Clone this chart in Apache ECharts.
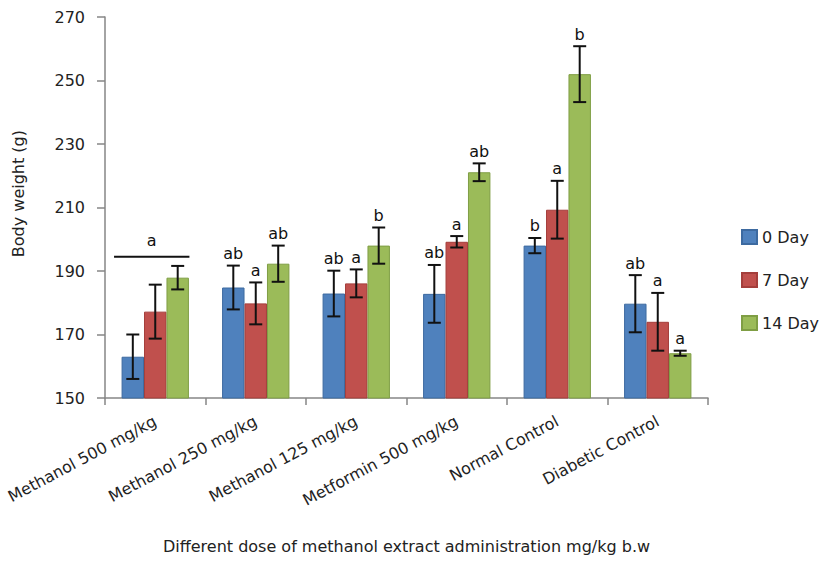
<!DOCTYPE html>
<html>
<head>
<meta charset="utf-8">
<script src="https://cdn.jsdelivr.net/npm/echarts@6/dist/echarts.min.js"></script>
<style>html,body{margin:0;padding:0;background:#fff}#main{width:826px;height:570px}</style>
</head>
<body>
<div id="main"></div>
<script>
var categories = ['Methanol 500 mg/kg','Methanol 250 mg/kg','Methanol 125 mg/kg','Metformin 500 mg/kg','Normal Control','Diabetic Control'];
var seriesNames = ['0 Day','7 Day','14 Day'];
var day0 = [163, 184.8, 182.9, 182.8, 198, 179.7];
var day0Err = [7, 6.9, 7.2, 9.1, 2.4, 9];
var day7 = [177.2, 179.8, 186.1, 199.2, 209.3, 174];
var day7Err = [8.5, 6.6, 4.4, 1.8, 9.1, 9.1];
var day14 = [187.9, 192.3, 198, 221.1, 252, 164.1];
var day14Err = [3.7, 5.7, 5.7, 2.8, 8.8, 0.8];
var letters0 = ['', 'ab', 'ab', 'ab', 'b', 'ab'];
var letters7 = ['', 'a', 'a', 'a', 'a', 'a'];
var letters14 = ['', 'ab', 'b', 'ab', 'b', 'a'];
var groupBracket = [[0, 194.5, 'a']];
var yTicks = [150, 170, 190, 210, 230, 250, 270];

var colors = ['#4F81BD', '#C0504D', '#9BBB59'];
var borders = ['#3d6aa0', '#a43e3b', '#7f9e44'];
var FONT = 'DejaVu Sans';
var values = [day0, day7, day14];
var errs = [day0Err, day7Err, day14Err];
var letters = [letters0, letters7, letters14];
var GROUP = 0.67;

var series = [];
values.forEach(function (vals, s) {
  series.push({
    name: seriesNames[s],
    type: 'bar',
    data: vals,
    barGap: '0%',
    barCategoryGap: '33%',
    itemStyle: { color: colors[s], borderColor: borders[s], borderWidth: 1 },
    z: 2
  });
});
values.forEach(function (vals, s) {
  var data = vals.map(function (v, i) { return [i, v, errs[s][i], letters[s][i]]; });
  series.push({
    type: 'custom',
    data: data,
    z: 5,
    silent: true,
    renderItem: function (params, api) {
      var i = api.value(0), v = api.value(1), e = api.value(2);
      var lbl = data[params.dataIndex][3];
      var c = api.coord([i, v]);
      var catW = api.size([1, 0])[0];
      var bw = catW * GROUP / 3;
      var x = c[0] + (s - 1) * bw;
      var top = api.coord([i, v + e])[1];
      var bot = api.coord([i, v - e])[1];
      var cap = 6.5;
      var st = { stroke: '#111', lineWidth: 2 };
      var children = [
        { type: 'line', shape: { x1: x, y1: top, x2: x, y2: bot }, style: st },
        { type: 'line', shape: { x1: x - cap, y1: top, x2: x + cap, y2: top }, style: st },
        { type: 'line', shape: { x1: x - cap, y1: bot, x2: x + cap, y2: bot }, style: st }
      ];
      if (lbl) {
        children.push({ type: 'text', style: { text: lbl, x: x, y: top - 4, align: 'center', verticalAlign: 'bottom', fill: '#111', font: '16px "' + FONT + '"' } });
      }
      return { type: 'group', children: children };
    }
  });
});
series.push({
  type: 'custom',
  data: groupBracket,
  z: 5,
  silent: true,
  renderItem: function (params, api) {
    var i = api.value(0), v = api.value(1);
    var lbl = groupBracket[params.dataIndex][2];
    var c = api.coord([i, v]);
    var catW = api.size([1, 0])[0];
    var x1 = c[0] - catW * 0.41, x2 = c[0] + catW * 0.34;
    return { type: 'group', children: [
      { type: 'line', shape: { x1: x1, y1: c[1], x2: x2, y2: c[1] }, style: { stroke: '#111', lineWidth: 2 } },
      { type: 'text', style: { text: lbl, x: (x1 + x2) / 2, y: c[1] - 8, align: 'center', verticalAlign: 'bottom', fill: '#111', font: '16px "' + FONT + '"' } }
    ] };
  }
});

var chart = echarts.init(document.getElementById('main'), null, { renderer: 'svg' });
chart.setOption({
  animation: false,
  backgroundColor: '#fff',
  textStyle: { fontFamily: FONT },
  grid: { left: 105, right: 118, top: 17, bottom: 172, containLabel: false },
  legend: {
    orient: 'vertical',
    left: 741,
    top: 229,
    padding: 0,
    itemWidth: 15,
    itemHeight: 14,
    itemGap: 27,
    icon: 'rect',
    data: seriesNames,
    textStyle: { fontFamily: FONT, fontSize: 16, color: '#222' }
  },
  xAxis: {
    type: 'category',
    data: categories,
    name: 'Different dose of methanol extract administration mg/kg b.w',
    nameLocation: 'middle',
    nameGap: 140,
    nameTextStyle: { fontFamily: FONT, fontSize: 16, color: '#222' },
    axisLine: { lineStyle: { color: '#868686', width: 1.5 } },
    axisTick: { show: true, length: 7, lineStyle: { color: '#868686', width: 1.5 } },
    axisLabel: { interval: 0, rotate: 28, margin: 22, fontFamily: FONT, fontSize: 16, color: '#222' }
  },
  yAxis: {
    type: 'value',
    min: 150,
    max: 270,
    interval: 20,
    splitLine: { show: false },
    axisLine: { show: true, lineStyle: { color: '#868686', width: 1.5 } },
    axisTick: { show: true, length: 8, lineStyle: { color: '#868686', width: 1.5 } },
    axisLabel: { margin: 20, fontFamily: FONT, fontSize: 16, color: '#222',
      formatter: function (v) { return yTicks.indexOf(v) >= 0 ? String(v) : ''; } }
  },
  graphic: [{
    type: 'text',
    left: 10,
    top: 130,
    rotation: Math.PI / 2,
    style: { text: 'Body weight (g)', fill: '#222', font: '16px "' + FONT + '"' }
  }],
  series: series
});
</script>
</body>
</html>
